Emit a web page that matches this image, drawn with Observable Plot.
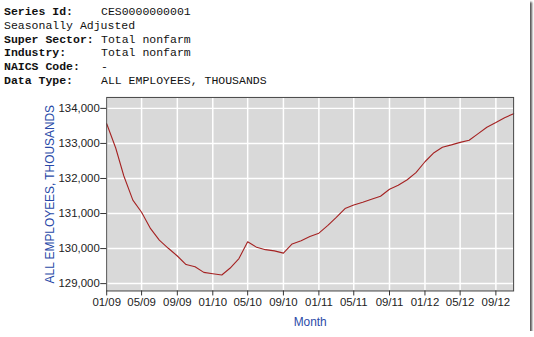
<!DOCTYPE html>
<html>
<head>
<meta charset="utf-8">
<script src="https://cdn.jsdelivr.net/npm/d3@7"></script>
<script src="https://cdn.jsdelivr.net/npm/@observablehq/plot@0.6"></script>
<style>
  html, body { margin: 0; padding: 0; background: #fff; }
  #wrap { position: relative; width: 530px; height: 331px; background: #fff;
          box-shadow: 2px 2px 2px #555; overflow: hidden; }
  #head { margin: 0; padding: 5px 0 0 4px; height: 85px; font: 11.5px/13.8px "Liberation Mono", "Courier New", monospace; color: #111; }
  .row { display: flex; height: 13.8px; white-space: nowrap; }
  .lab { width: 97px; flex: none; }
  .lab.b { font-weight: bold; }
  .lab.wide { width: auto; }
  #chart { position: absolute; left: 0; top: 90px; }
</style>
</head>
<body>
<div id="wrap">
  <div id="head"></div>
  <div id="chart"></div>
</div>
<script>
// Header metadata
const headerLabels = ["Series Id:", "Seasonally Adjusted", "Super Sector:", "Industry:", "NAICS Code:", "Data Type:"];
const headerValues = ["CES0000000001", "", "Total nonfarm", "Total nonfarm", "-", "ALL EMPLOYEES, THOUSANDS"];
const headerBold = [true, false, true, true, true, true];

// Series: monthly values starting Jan 2009 (thousands)
const startMonth = "2009-01";
const employees = [
  133561, 132870, 132070, 131382, 131035, 130568, 130239, 130008, 129788, 129544, 129480, 129320,
  129281, 129246, 129438, 129715, 130193, 130035, 129969, 129934, 129870, 130132, 130225, 130345,
  130440, 130660, 130880, 131142, 131242, 131322, 131407, 131492, 131694, 131806, 131963, 132166,
  132477, 132736, 132890, 132958, 133030, 133090, 133271, 133463, 133595, 133733, 133850
];

// Axis ticks
const xTickLabels = ["01/09","05/09","09/09","01/10","05/10","09/10","01/11","05/11","09/11","01/12","05/12","09/12"];
const yTicks = [129000, 130000, 131000, 132000, 133000, 134000];
const yLabel = "ALL EMPLOYEES, THOUSANDS";
const xLabel = "Month";

// header
const head = document.getElementById("head");
headerLabels.forEach((l, i) => {
  const row = document.createElement("div");
  row.className = "row";
  const lab = document.createElement("span");
  lab.className = "lab" + (headerBold[i] ? " b" : "") + (headerValues[i] ? "" : " wide");
  lab.textContent = l;
  row.appendChild(lab);
  if (headerValues[i]) {
    const val = document.createElement("span");
    val.textContent = headerValues[i];
    row.appendChild(val);
  }
  head.appendChild(row);
});

const start = d3.utcParse("%Y-%m")(startMonth);
const data = employees.map((v, i) => ({date: d3.utcMonth.offset(start, i), value: v}));
const parseTick = d3.utcParse("%m/%y");
const xTicks = xTickLabels.map(parseTick);
const fmtX = d3.utcFormat("%m/%y");

const chart = Plot.plot({
  width: 534,
  height: 247,
  marginTop: 7,
  marginBottom: 45,
  marginLeft: 107,
  marginRight: 17,
  style: {fontFamily: "'Liberation Sans', Arial, sans-serif", fontSize: "11.5px", color: "#333", background: "transparent"},
  x: {type: "utc", domain: [start, data[data.length - 1].date]},
  y: {domain: [128790, 134312]},
  marks: [
    Plot.frame({fill: "#d9d9d9", stroke: null}),
    Plot.gridX(xTicks, {stroke: "#fff", strokeOpacity: 1, strokeWidth: 1.5}),
    Plot.gridY(yTicks, {stroke: "#fff", strokeOpacity: 1, strokeWidth: 1.5}),
    Plot.line(data, {x: "date", y: "value", stroke: "#a52222", strokeWidth: 1.1}),
    Plot.frame({stroke: "#444", strokeWidth: 1}),
    Plot.axisX(xTicks, {tickFormat: fmtX, tickSize: 5, tickPadding: 2, label: null, stroke: "#333", fill: "#222"}),
    Plot.axisY(yTicks, {tickFormat: d3.format(","), tickSize: 6, tickPadding: 1, label: null, stroke: "#333", fill: "#222"}),
    Plot.text([xLabel], {frameAnchor: "bottom", dy: 31, fill: "#2a4aa8", fontSize: 12, lineAnchor: "middle"}),
    Plot.text([yLabel], {frameAnchor: "left", dx: -57, rotate: -90, fill: "#2a4aa8", fontSize: 12, lineAnchor: "middle", textAnchor: "middle"})
  ]
});
document.getElementById("chart").appendChild(chart);
</script>
</body>
</html>
